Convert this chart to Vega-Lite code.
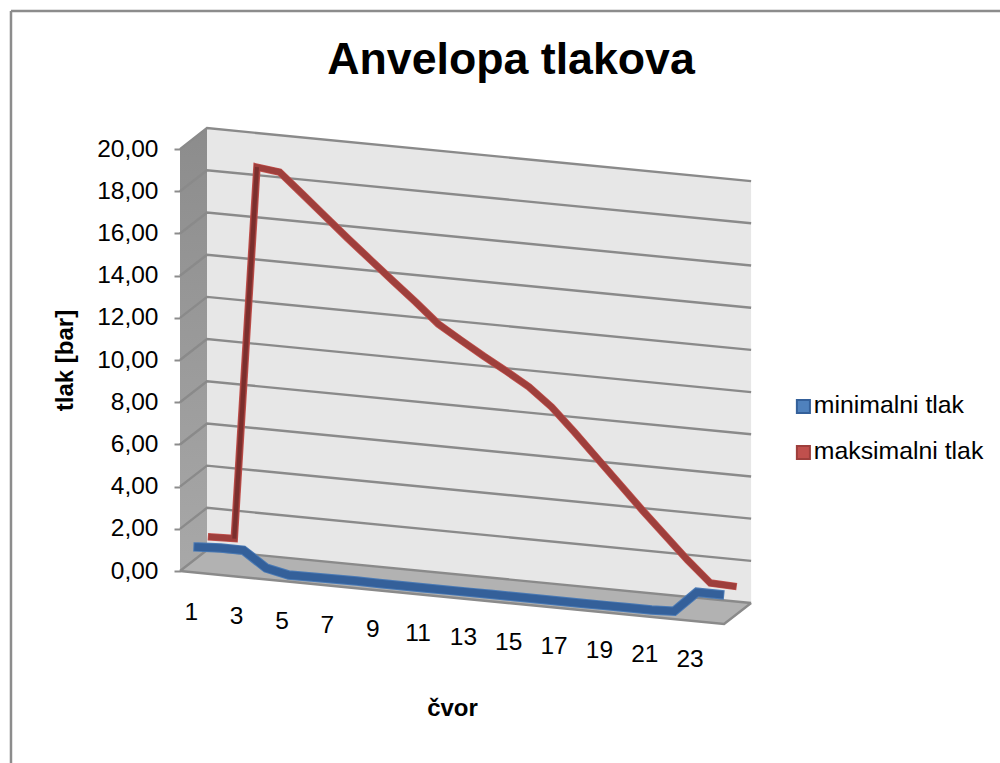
{
  "$schema": "https://vega.github.io/schema/vega-lite/v6.json",
  "autosize": "none",
  "width": 572,
  "height": 496,
  "padding": {"left": 180, "top": 128, "right": 248, "bottom": 139},
  "background": "white",
  "config": {
    "view": {"stroke": null},
    "font": "Liberation Sans"
  },
  "title": {
    "text": "Anvelopa tlakova",
    "font": "Liberation Sans",
    "fontSize": 44.7,
    "fontWeight": "bold",
    "color": "#000000",
    "frame": "group",
    "anchor": "middle",
    "dx": 45,
    "offset": -74
  },
  "datasets": {
    "tlak": [
      {"cvor": 1, "serija": "minimalni tlak", "tlak": 0.94},
      {"cvor": 2, "serija": "minimalni tlak", "tlak": 1.0},
      {"cvor": 3, "serija": "minimalni tlak", "tlak": 1.0},
      {"cvor": 4, "serija": "minimalni tlak", "tlak": 0.26},
      {"cvor": 5, "serija": "minimalni tlak", "tlak": 0.03},
      {"cvor": 6, "serija": "minimalni tlak", "tlak": 0.05},
      {"cvor": 7, "serija": "minimalni tlak", "tlak": 0.05},
      {"cvor": 8, "serija": "minimalni tlak", "tlak": 0.06},
      {"cvor": 9, "serija": "minimalni tlak", "tlak": 0.05},
      {"cvor": 10, "serija": "minimalni tlak", "tlak": 0.05},
      {"cvor": 11, "serija": "minimalni tlak", "tlak": 0.05},
      {"cvor": 12, "serija": "minimalni tlak", "tlak": 0.05},
      {"cvor": 13, "serija": "minimalni tlak", "tlak": 0.05},
      {"cvor": 14, "serija": "minimalni tlak", "tlak": 0.05},
      {"cvor": 15, "serija": "minimalni tlak", "tlak": 0.05},
      {"cvor": 16, "serija": "minimalni tlak", "tlak": 0.05},
      {"cvor": 17, "serija": "minimalni tlak", "tlak": 0.05},
      {"cvor": 18, "serija": "minimalni tlak", "tlak": 0.05},
      {"cvor": 19, "serija": "minimalni tlak", "tlak": 0.05},
      {"cvor": 20, "serija": "minimalni tlak", "tlak": 0.05},
      {"cvor": 21, "serija": "minimalni tlak", "tlak": 0.05},
      {"cvor": 22, "serija": "minimalni tlak", "tlak": 0.1},
      {"cvor": 23, "serija": "minimalni tlak", "tlak": 1.1},
      {"cvor": 24, "serija": "minimalni tlak", "tlak": 1.1},
      {"cvor": 1, "serija": "maksimalni tlak", "tlak": 0.92},
      {"cvor": 2, "serija": "maksimalni tlak", "tlak": 0.95},
      {"cvor": 3, "serija": "maksimalni tlak", "tlak": 18.66},
      {"cvor": 4, "serija": "maksimalni tlak", "tlak": 18.53},
      {"cvor": 5, "serija": "maksimalni tlak", "tlak": 17.6},
      {"cvor": 6, "serija": "maksimalni tlak", "tlak": 16.65},
      {"cvor": 7, "serija": "maksimalni tlak", "tlak": 15.71},
      {"cvor": 8, "serija": "maksimalni tlak", "tlak": 14.8},
      {"cvor": 9, "serija": "maksimalni tlak", "tlak": 13.89},
      {"cvor": 10, "serija": "maksimalni tlak", "tlak": 13.0},
      {"cvor": 11, "serija": "maksimalni tlak", "tlak": 12.06},
      {"cvor": 12, "serija": "maksimalni tlak", "tlak": 11.4},
      {"cvor": 13, "serija": "maksimalni tlak", "tlak": 10.75},
      {"cvor": 14, "serija": "maksimalni tlak", "tlak": 10.14},
      {"cvor": 15, "serija": "maksimalni tlak", "tlak": 9.5},
      {"cvor": 16, "serija": "maksimalni tlak", "tlak": 8.65},
      {"cvor": 17, "serija": "maksimalni tlak", "tlak": 7.57},
      {"cvor": 18, "serija": "maksimalni tlak", "tlak": 6.44},
      {"cvor": 19, "serija": "maksimalni tlak", "tlak": 5.31},
      {"cvor": 20, "serija": "maksimalni tlak", "tlak": 4.18},
      {"cvor": 21, "serija": "maksimalni tlak", "tlak": 3.1},
      {"cvor": 22, "serija": "maksimalni tlak", "tlak": 2.02},
      {"cvor": 23, "serija": "maksimalni tlak", "tlak": 1.04},
      {"cvor": 24, "serija": "maksimalni tlak", "tlak": 1.0}
    ],
    "mreza": [
      {"v": 2, "node": 0.5, "depth": 0}, {"v": 2, "node": 0.5, "depth": 1}, {"v": 2, "node": 24.5, "depth": 1},
      {"v": 4, "node": 0.5, "depth": 0}, {"v": 4, "node": 0.5, "depth": 1}, {"v": 4, "node": 24.5, "depth": 1},
      {"v": 6, "node": 0.5, "depth": 0}, {"v": 6, "node": 0.5, "depth": 1}, {"v": 6, "node": 24.5, "depth": 1},
      {"v": 8, "node": 0.5, "depth": 0}, {"v": 8, "node": 0.5, "depth": 1}, {"v": 8, "node": 24.5, "depth": 1},
      {"v": 10, "node": 0.5, "depth": 0}, {"v": 10, "node": 0.5, "depth": 1}, {"v": 10, "node": 24.5, "depth": 1},
      {"v": 12, "node": 0.5, "depth": 0}, {"v": 12, "node": 0.5, "depth": 1}, {"v": 12, "node": 24.5, "depth": 1},
      {"v": 14, "node": 0.5, "depth": 0}, {"v": 14, "node": 0.5, "depth": 1}, {"v": 14, "node": 24.5, "depth": 1},
      {"v": 16, "node": 0.5, "depth": 0}, {"v": 16, "node": 0.5, "depth": 1}, {"v": 16, "node": 24.5, "depth": 1},
      {"v": 18, "node": 0.5, "depth": 0}, {"v": 18, "node": 0.5, "depth": 1}, {"v": 18, "node": 24.5, "depth": 1},
      {"v": 20, "node": 0.5, "depth": 0}, {"v": 20, "node": 0.5, "depth": 1}, {"v": 20, "node": 24.5, "depth": 1},
      {"v": 0, "node": 0.5, "depth": 0}, {"v": 0, "node": 0.5, "depth": 1}, {"v": 0, "node": 24.5, "depth": 1},
      {"v": -1, "node": 0.5, "depth": 0}, {"v": -1, "node": 24.5, "depth": 0}, {"v": -1, "node": 24.5, "depth": 1}
    ]
  },
  "encoding": {
    "x": {
      "field": "sx",
      "type": "quantitative",
      "scale": {"domain": [0.5, 25.73], "nice": false, "zero": false},
      "axis": {
        "title": "čvor",
        "titleFont": "Liberation Sans",
        "titleFontSize": 24,
        "titleFontWeight": "bold",
        "titleColor": "#000000",
        "titleX": 272,
        "titleY": 84,
        "titleBaseline": "middle",
        "labels": false,
        "ticks": false,
        "domain": false,
        "grid": false
      }
    },
    "y": {
      "field": "sy",
      "type": "quantitative",
      "scale": {"domain": [-2.51, 21.0], "nice": false, "zero": false},
      "axis": {
        "title": "tlak [bar]",
        "titleFont": "Liberation Sans",
        "titleFontSize": 24,
        "titleFontWeight": "bold",
        "titleColor": "#000000",
        "titleX": -115,
        "titleY": 232,
        "titleBaseline": "middle",
        "values": [0, 2, 4, 6, 8, 10, 12, 14, 16, 18, 20],
        "labelExpr": "replace(format(datum.value, '.2f'), '.', ',')",
        "labelFont": "Liberation Sans",
        "labelFontSize": 24.5,
        "labelColor": "#000000",
        "labelPadding": 16,
        "tickSize": 6,
        "tickWidth": 2,
        "tickColor": "#8c8c8c",
        "domain": false,
        "grid": false
      }
    }
  },
  "layer": [
    {
      "data": {"values": [
        {"sx": 0.5, "sy": 20, "sy2": 0},
        {"sx": 1.691, "sy": 20.995, "sy2": 0.995}
      ]},
      "mark": {"type": "area", "color": {"gradient": "linear", "x1": 0, "y1": 0, "x2": 0, "y2": 1, "stops": [{"offset": 0, "color": "#8c8c8c"}, {"offset": 1, "color": "#a8a8a8"}]}},
      "encoding": {"y2": {"field": "sy2"}}
    },
    {
      "data": {"values": [
        {"sx": 1.691, "sy": 20.995, "sy2": 0.995},
        {"sx": 25.691, "sy": 18.482, "sy2": -1.518}
      ]},
      "mark": {"type": "area", "color": "#e7e7e7"},
      "encoding": {"y2": {"field": "sy2"}}
    },
    {
      "data": {"values": [
        {"sx": 0.5, "sy": 0, "sy2": 0},
        {"sx": 1.691, "sy": 0.995, "sy2": -0.1247},
        {"sx": 24.5, "sy": -1.393, "sy2": -2.513},
        {"sx": 25.691, "sy": -1.518, "sy2": -1.518}
      ]},
      "mark": {"type": "area", "color": "#b2b2b2"},
      "encoding": {"y2": {"field": "sy2"}}
    },
    {
      "data": {"name": "mreza"},
      "transform": [
        {"calculate": "datum.node + datum.depth * 1.191", "as": "sx"},
        {"calculate": "(datum.v < 0 ? 0 : datum.v) - (datum.node - 0.5) * 0.1047 + datum.depth * 0.995", "as": "sy"}
      ],
      "mark": {"type": "line", "color": "#8a8a8a", "strokeWidth": 2.4},
      "encoding": {"detail": {"field": "v"}}
    },
    {
      "data": {"name": "tlak"},
      "transform": [
        {"filter": "datum.serija === 'maksimalni tlak'"},
        {"calculate": "datum.cvor + 0.75 * 1.191", "as": "sx"},
        {"calculate": "datum.tlak - (datum.cvor - 0.5) * 0.1047 + 0.75 * 0.995", "as": "sy"}
      ],
      "mark": {"type": "line", "color": "#c4524e", "strokeWidth": 7.5, "strokeJoin": "miter", "strokeCap": "square"}
    },
    {
      "data": {"name": "tlak"},
      "transform": [
        {"filter": "datum.serija === 'minimalni tlak'"},
        {"calculate": "datum.cvor + 0.25 * 1.191", "as": "sx"},
        {"calculate": "datum.tlak - (datum.cvor - 0.5) * 0.1047 + 0.25 * 0.995", "as": "sy"}
      ],
      "mark": {"type": "line", "color": "#4a7ab5", "strokeWidth": 9.5, "strokeJoin": "miter", "strokeCap": "square"}
    },
    {
      "data": {"name": "tlak"},
      "transform": [
        {"filter": "datum.serija === 'maksimalni tlak'"},
        {"calculate": "datum.cvor + 0.75 * 1.191", "as": "sx"},
        {"calculate": "datum.tlak - (datum.cvor - 0.5) * 0.1047 + 0.75 * 0.995", "as": "sy"}
      ],
      "mark": {"type": "line", "strokeJoin": "miter", "strokeCap": "square", "strokeWidth": 6},
      "encoding": {
        "color": {
          "field": "serija",
          "type": "nominal",
          "scale": {"domain": ["minimalni tlak", "maksimalni tlak"], "range": ["#34609a", "#9e3f3c"]},
          "legend": {
            "orient": "none",
            "legendX": 611,
            "legendY": 266,
            "title": null,
            "symbolType": "square",
            "symbolSize": 170,
            "labelFont": "Liberation Sans",
            "labelFontSize": 24.8,
            "labelColor": "#000000",
            "labelOffset": -2,
            "labelLimit": 300,
            "rowPadding": 20,
            "encoding": {
              "symbols": {
                "fill": {"value": {"signal": "datum.value === 'minimalni tlak' ? '#4f81bd' : '#c0504d'"}},
                "stroke": {"value": {"signal": "datum.value === 'minimalni tlak' ? '#385d8a' : '#c0504d'"}},
                "strokeWidth": {"value": 2}
              }
            }
          }
        }
      }
    },
    {
      "data": {"name": "tlak"},
      "transform": [
        {"filter": "datum.serija === 'minimalni tlak'"},
        {"calculate": "datum.cvor + 0.25 * 1.191", "as": "sx"},
        {"calculate": "datum.tlak - (datum.cvor - 0.5) * 0.1047 + 0.25 * 0.995", "as": "sy"}
      ],
      "mark": {"type": "line", "strokeJoin": "miter", "strokeCap": "square", "strokeWidth": 7.5},
      "encoding": {
        "color": {
          "field": "serija",
          "type": "nominal",
          "scale": {"domain": ["minimalni tlak", "maksimalni tlak"], "range": ["#34609a", "#9e3f3c"]},
          "legend": {
            "orient": "none",
            "legendX": 611,
            "legendY": 266,
            "title": null,
            "symbolType": "square",
            "symbolSize": 170,
            "labelFont": "Liberation Sans",
            "labelFontSize": 24.8,
            "labelColor": "#000000",
            "labelOffset": -2,
            "labelLimit": 300,
            "rowPadding": 20,
            "encoding": {
              "symbols": {
                "fill": {"value": {"signal": "datum.value === 'minimalni tlak' ? '#4f81bd' : '#c0504d'"}},
                "stroke": {"value": {"signal": "datum.value === 'minimalni tlak' ? '#385d8a' : '#c0504d'"}},
                "strokeWidth": {"value": 2}
              }
            }
          }
        }
      }
    },
    {
      "data": {"name": "tlak"},
      "transform": [
        {"filter": "datum.serija === 'maksimalni tlak' && datum.cvor >= 2 && datum.cvor <= 3"},
        {"calculate": "datum.cvor + 0.75 * 1.191", "as": "sx"},
        {"calculate": "datum.tlak - (datum.cvor - 0.5) * 0.1047 + 0.75 * 0.995", "as": "sy"}
      ],
      "mark": {"type": "line", "color": "#7a2f2d", "strokeWidth": 4}
    },
    {
      "data": {"values": [
        {"cvor": 1}, {"cvor": 3}, {"cvor": 5}, {"cvor": 7}, {"cvor": 9}, {"cvor": 11},
        {"cvor": 13}, {"cvor": 15}, {"cvor": 17}, {"cvor": 19}, {"cvor": 21}, {"cvor": 23}
      ]},
      "transform": [
        {"calculate": "datum.cvor", "as": "sx"},
        {"calculate": "-(datum.cvor - 0.5) * 0.1", "as": "sy"}
      ],
      "mark": {"type": "text", "font": "Liberation Sans", "fontSize": 24.5, "color": "#000000", "dy": 41, "baseline": "middle", "align": "center"},
      "encoding": {"text": {"field": "cvor", "type": "nominal"}}
    },
    {
      "data": {"values": [{"sx": -6.955, "sy": 26.55, "sy2": -9.2}]},
      "mark": {"type": "rule", "color": "#8c8c8c", "strokeWidth": 2.5, "clip": false},
      "encoding": {"y2": {"field": "sy2"}}
    },
    {
      "data": {"values": [{"sx": -6.955, "sx2": 36.7, "sy": 26.55}]},
      "mark": {"type": "rule", "color": "#8c8c8c", "strokeWidth": 2.5, "clip": false},
      "encoding": {"x2": {"field": "sx2"}}
    }
  ]
}
